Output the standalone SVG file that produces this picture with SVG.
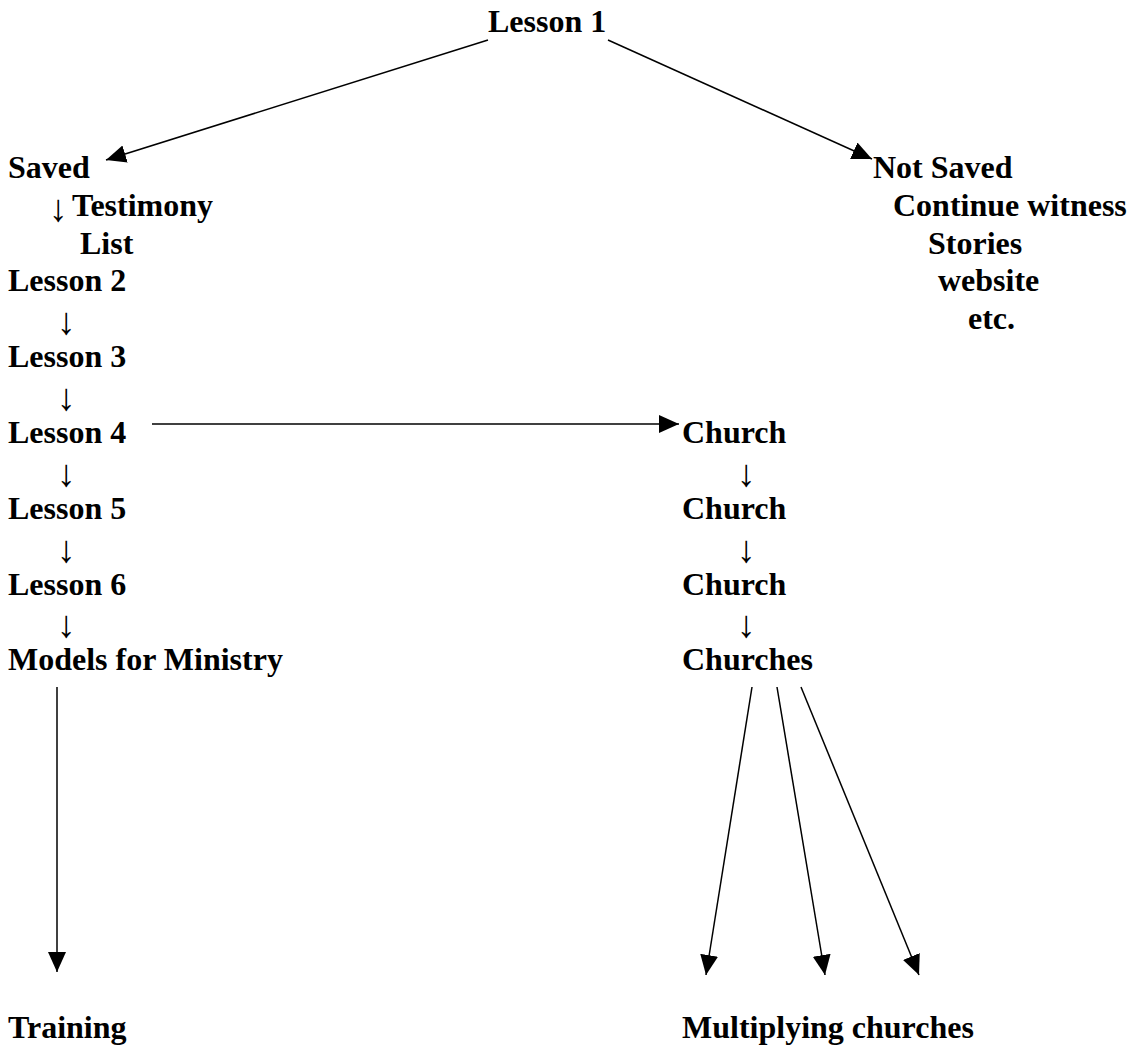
<svg xmlns="http://www.w3.org/2000/svg" width="1128" height="1057" viewBox="0 0 1128 1057">
<style>
text{font-family:"Liberation Serif","Times New Roman",serif;font-weight:bold;font-size:32px;fill:#000}
.a{font-size:38px;text-anchor:middle}
.c{stroke:#000;stroke-width:1.5;fill:none;marker-end:url(#ah)}
</style>
<defs>
<marker id="ah" markerUnits="userSpaceOnUse" markerWidth="22" markerHeight="20" refX="20" refY="9" orient="auto" viewBox="0 0 22 20">
<path d="M0,0 L20,9 L0,18 z" fill="#000"/>
</marker>
</defs>
<rect width="1128" height="1057" fill="#fff"/>
<g id="connectors">
<line class="c" x1="488" y1="40" x2="106" y2="160"/>
<line class="c" x1="608" y1="40" x2="872" y2="159"/>
<line class="c" x1="152" y1="424" x2="679" y2="424"/>
<line class="c" x1="57" y1="687" x2="57" y2="972"/>
<line class="c" x1="752" y1="687" x2="706" y2="975"/>
<line class="c" x1="777" y1="687" x2="825" y2="975"/>
<line class="c" x1="801" y1="687" x2="919" y2="975"/>
</g>
<g id="lesson1"><text x="488" y="32">Lesson 1</text></g>
<g id="saved"><text x="8" y="178">Saved</text></g>
<g id="testimony"><text class="a" x="58" y="221">↓</text><text x="72" y="216">Testimony</text></g>
<g id="list"><text x="80" y="254">List</text></g>
<g id="lesson2"><text x="8" y="291">Lesson 2</text></g>
<g id="arrow2"><text class="a" x="66" y="334">↓</text></g>
<g id="lesson3"><text x="8" y="367">Lesson 3</text></g>
<g id="arrow3"><text class="a" x="66" y="410">↓</text></g>
<g id="lesson4"><text x="8" y="443">Lesson 4</text></g>
<g id="arrow4"><text class="a" x="66" y="486">↓</text></g>
<g id="lesson5"><text x="8" y="519">Lesson 5</text></g>
<g id="arrow5"><text class="a" x="66" y="562">↓</text></g>
<g id="lesson6"><text x="8" y="595">Lesson 6</text></g>
<g id="arrow6"><text class="a" x="66" y="637">↓</text></g>
<g id="models"><text x="8" y="670">Models for Ministry</text></g>
<g id="training"><text x="8" y="1038">Training</text></g>
<g id="notsaved"><text x="873" y="178">Not Saved</text></g>
<g id="continue"><text x="893" y="216">Continue witness</text></g>
<g id="stories"><text x="928" y="254">Stories</text></g>
<g id="website"><text x="938" y="291">website</text></g>
<g id="etc"><text x="968" y="329">etc.</text></g>
<g id="church1"><text x="682" y="443">Church</text></g>
<g id="carrow1"><text class="a" x="746" y="486">↓</text></g>
<g id="church2"><text x="682" y="519">Church</text></g>
<g id="carrow2"><text class="a" x="746" y="562">↓</text></g>
<g id="church3"><text x="682" y="595">Church</text></g>
<g id="carrow3"><text class="a" x="746" y="637">↓</text></g>
<g id="churches"><text x="682" y="670">Churches</text></g>
<g id="multiplying"><text x="682" y="1038">Multiplying churches</text></g>
</svg>
